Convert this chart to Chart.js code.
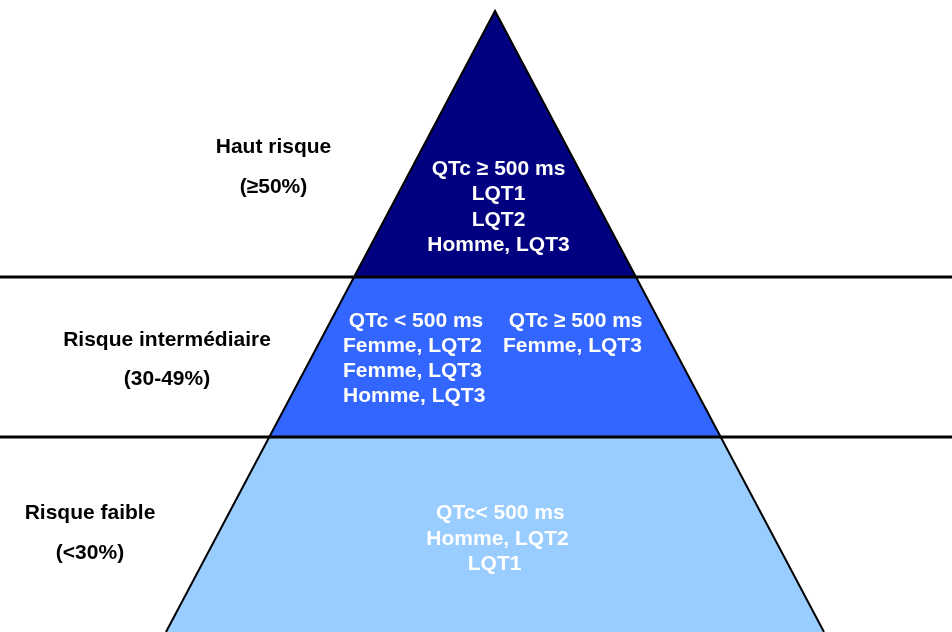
<!DOCTYPE html>
<html>
<head>
<meta charset="utf-8">
<title>Pyramide de risque</title>
<script src="https://cdn.jsdelivr.net/npm/chart.js@4"></script>
<style>
  html, body { margin: 0; padding: 0; background: #ffffff; }
  #zone { width: 952px; height: 632px; }
</style>
</head>
<body>
<div id="zone"><canvas id="pyramide"></canvas></div>
<script>
// niveaux de la pyramide, de la base vers le sommet
const niveaux = ["Risque faible", "Risque intermédiaire", "Haut risque"];
const seuils = ["(<30%)", "(30-49%)", "(≥50%)"];
// hauteur des limites entre niveaux (base -> sommet)
const bornes = [0, 195, 355, 621];
const couleurs = ["#99CCFF", "#3366FF", "#000080"];

// textes à l'intérieur de chaque niveau
const texteFaible = [" QTc< 500 ms", "Homme, LQT2", "LQT1 "];
const texteInterGauche = [" QTc < 500 ms", "Femme, LQT2", "Femme, LQT3", "Homme, LQT3"];
const texteInterDroite = [" QTc ≥ 500 ms", "Femme, LQT3"];
const texteHaut = ["QTc ≥ 500 ms", "LQT1", "LQT2", "Homme, LQT3"];

const centre = 495;
const demiBase = 329;
const largeur = 952;

function demiLargeur(h) {
    return demiBase * (1 - h / bornes[bornes.length - 1]);
}

// polygones des niveaux
const datasets = [];
for (let i = 0; i < niveaux.length; i++) {
    const b = bornes[i], t = bornes[i + 1];
    datasets.push({
        label: niveaux[i],
        data: [
            { x: centre - demiLargeur(b), y: b },
            { x: centre + demiLargeur(b), y: b },
            { x: centre + demiLargeur(t), y: t },
            { x: centre - demiLargeur(t), y: t },
            { x: centre - demiLargeur(b), y: b }
        ],
        showLine: true,
        fill: "shape",
        backgroundColor: couleurs[i],
        borderWidth: 0,
        pointRadius: 0,
        order: 2
    });
}

// contour du triangle
const sommet = bornes[bornes.length - 1];
datasets.push({
    label: "contour",
    data: [
        { x: centre - demiLargeur(0), y: 0 },
        { x: centre, y: sommet },
        { x: centre + demiLargeur(0), y: 0 }
    ],
    showLine: true,
    fill: false,
    borderColor: "#000000",
    borderWidth: 2,
    pointRadius: 0,
    order: 1
});

// séparations horizontales
for (let i = 1; i < bornes.length - 1; i++) {
    datasets.push({
        label: "limite " + i,
        data: [{ x: 0, y: bornes[i] }, { x: largeur, y: bornes[i] }],
        showLine: true,
        fill: false,
        borderColor: "#000000",
        borderWidth: 3,
        pointRadius: 0,
        order: 0
    });
}

const police = 'bold 21px "Liberation Sans", Arial, sans-serif';

function ecrire(ctx, lignes, x, y0, pas, align, couleur) {
    ctx.textAlign = align;
    ctx.fillStyle = couleur;
    lignes.forEach((l, k) => ctx.fillText(l, x, y0 + k * pas));
}

const textes = {
    id: "textes",
    afterDatasetsDraw(chart) {
        const ctx = chart.ctx;
        ctx.save();
        ctx.font = police;
        ctx.textBaseline = "alphabetic";

        // étiquettes à gauche
        ecrire(ctx, [niveaux[2], seuils[2]], 273.5, 153, 40, "center", "#000000");
        ecrire(ctx, [niveaux[1], seuils[1]], 167, 346, 39, "center", "#000000");
        ecrire(ctx, [niveaux[0], seuils[0]], 90, 519, 40, "center", "#000000");

        // textes dans la pyramide
        ecrire(ctx, texteHaut, 498.5, 175, 25.3, "center", "#ffffff");
        ecrire(ctx, texteInterGauche, 343, 327, 25, "left", "#ffffff");
        ecrire(ctx, texteInterDroite, 503, 327, 25, "left", "#ffffff");
        ecrire(ctx, texteFaible, 497.5, 519, 25.5, "center", "#ffffff");
        ctx.restore();
    }
};

new Chart(document.getElementById("pyramide"), {
    type: "scatter",
    data: { datasets },
    options: {
        responsive: true,
        maintainAspectRatio: false,
        animation: false,
        layout: { padding: 0 },
        plugins: {
            legend: { display: false },
            tooltip: { enabled: false }
        },
        scales: {
            x: { type: "linear", min: 0, max: largeur, display: false },
            y: { type: "linear", min: 0, max: 632, display: false }
        }
    },
    plugins: [textes]
});
</script>
</body>
</html>
